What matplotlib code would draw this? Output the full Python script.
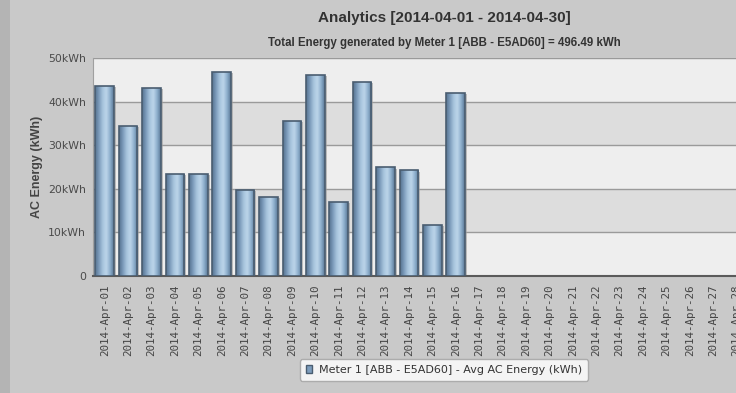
import numpy as np
import matplotlib
matplotlib.use("Agg")
import matplotlib.pyplot as plt
import matplotlib.patches as patches
from matplotlib.colors import LinearSegmentedColormap

# 데이터 (그림에서 읽은 값, kWh)
days = [f"2014-Apr-{d:02d}" for d in range(1, 31)]
energy = [43.6, 34.4, 43.1, 23.5, 23.5, 46.8, 19.7, 18.2,
          35.6, 46.1, 17.0, 44.5, 24.9, 24.2, 11.8, 42.0]
y_ticks = [0, 10, 20, 30, 40, 50]
y_tick_labels = ["0", "10kWh", "20kWh", "30kWh", "40kWh", "50kWh"]

title = "Analytics [2014-04-01 - 2014-04-30]"
subtitle = "Total Energy generated by Meter 1 [ABB - E5AD60] = 496.49 kWh"
legend_label = "Meter 1 [ABB - E5AD60] - Avg AC Energy (kWh)"

fig = plt.figure(figsize=(7.36, 3.93), dpi=100, facecolor="#c9c9c9")
# 왼쪽 어두운 띠
fig.patches.append(patches.Rectangle((0, 0), 10 / 736, 1, transform=fig.transFigure,
                                     facecolor="#b4b4b4", edgecolor="none", zorder=0))

ax = fig.add_axes([93 / 736, 117 / 393, 702 / 736, 218 / 393])
ax.set_facecolor("#eeeeee")
ax.set_xlim(-0.5, len(days) - 0.5)
ax.set_ylim(0, 50)

# 배경 밴드 + 격자
for lo in (10, 30):
    ax.axhspan(lo, lo + 10, facecolor="#dddddd", edgecolor="none", zorder=0)
for y in y_ticks[1:]:
    ax.axhline(y, color="#9a9a9a", lw=1.0, zorder=1)

x = np.arange(len(energy))
bars = ax.bar(x, energy, width=0.8, color="#7d9dbd", edgecolor="#4a5d70",
              linewidth=1.2, zorder=3)

# 막대 그림자 + 원통형 그라디언트
cmap = LinearSegmentedColormap.from_list(
    "cyl", ["#56728f", "#7a9aba", "#a6c3dc", "#bcd5ea", "#8fb0cd", "#5a7896"])
grad = np.linspace(0, 1, 64).reshape(1, -1)
for b in bars:
    x0, y0 = b.get_x(), b.get_y()
    w, h = b.get_width(), b.get_height()
    sh = patches.Rectangle((x0 + 0.08, y0), w, h - 0.3, facecolor="#9a9a9a",
                           edgecolor="none", alpha=0.6, zorder=2)
    ax.add_patch(sh)
    im = ax.imshow(grad, cmap=cmap, aspect="auto", extent=(x0, x0 + w, y0, y0 + h),
                   zorder=3.5, interpolation="bicubic")
    im.set_clip_path(b)
    b.set_facecolor("none")
    b.set_zorder(4)

ax.set_yticks(y_ticks)
ax.set_yticklabels(y_tick_labels, fontsize=7.8, color="#4a4a4a")
ax.set_xticks(np.arange(len(days)))
ax.set_xticklabels(days, rotation=90, fontsize=7.8, color="#444444",
                   family="DejaVu Sans Mono")
ax.tick_params(axis="both", length=0, pad=5)
ax.tick_params(axis="x", pad=6)

for side in ("top", "right"):
    ax.spines[side].set_visible(False)
ax.spines["bottom"].set_color("#5a5a5a")
ax.spines["bottom"].set_linewidth(1.5)
ax.spines["left"].set_color("#a0a0a0")

ax.set_ylabel("AC Energy (kWh)", fontsize=9, fontweight="bold", color="#444444",
              family="Liberation Sans", labelpad=4)

cx = (93 + 795) / 2 / 736
fig.text(cx, 1 - 18 / 393, title, ha="center", va="center", fontsize=11,
         fontweight="bold", color="#333333", family="Liberation Sans")
fig.text(cx, 1 - 43 / 393, subtitle, ha="center", va="center", fontsize=8.3,
         fontweight="bold", color="#333333", family="Liberation Sans")

handle = patches.Patch(facecolor="#7d9dbd", edgecolor="#4a5d70")
leg = fig.legend([handle], [legend_label], loc="center",
                 bbox_to_anchor=(cx, 1 - 370 / 393), fontsize=8, frameon=True,
                 fancybox=True, handlelength=0.6, handleheight=0.8,
                 borderpad=0.5, handletextpad=0.6)
leg.get_frame().set_facecolor("#ffffff")
leg.get_frame().set_edgecolor("#a0a0a0")
for t in leg.get_texts():
    t.set_color("#333333")

fig.savefig("out.png", dpi=100, facecolor=fig.get_facecolor())
